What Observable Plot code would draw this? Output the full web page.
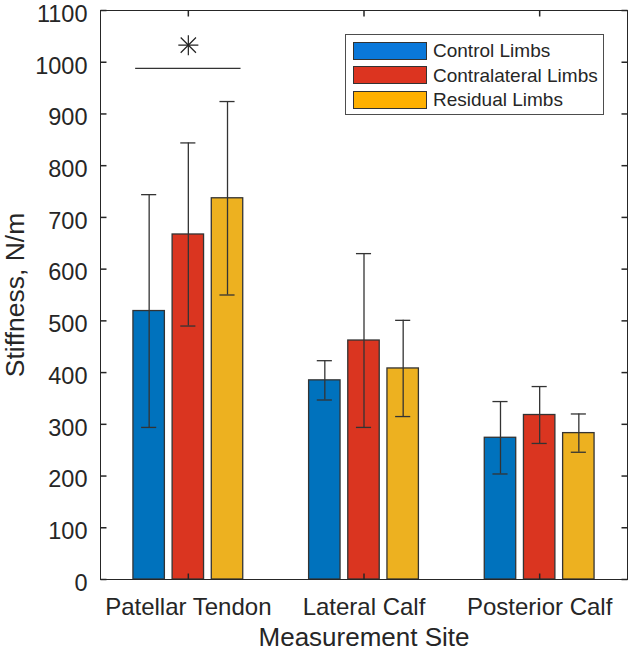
<!DOCTYPE html>
<html>
<head>
<meta charset="utf-8">
<script src="https://cdn.jsdelivr.net/npm/d3@7"></script>
<script src="https://cdn.jsdelivr.net/npm/@observablehq/plot@0.6"></script>
<style>
  body { margin: 0; background: #fff; font-family: "Liberation Sans", Arial, sans-serif; }
  #wrap { position: relative; width: 629px; height: 652px; }
  .legend { position: absolute; left: 345px; top: 34px; width: 257px; height: 79px;
            border: 1px solid #4d4d4d; background: #fff; box-sizing: content-box; }
  .row { position: absolute; left: 7px; height: 19px; display: flex; align-items: center; }
  .sw { width: 72px; height: 16px; border: 1.3px solid #333; }
  .lbl { margin-left: 6px; font-size: 19px; color: #262626; white-space: nowrap; line-height: 19px; }
</style>
</head>
<body>
<div id="wrap"></div>
<script>
// ---- data ----
const sites = ["Patellar Tendon", "Lateral Calf", "Posterior Calf"];
const series = ["Control Limbs", "Contralateral Limbs", "Residual Limbs"];
const controlMean = [519, 385, 274];
const controlSD = [225, 38, 70];
const contralateralMean = [667, 462, 318];
const contralateralSD = [177, 168, 55];
const residualMean = [737, 408, 283];
const residualSD = [187, 93, 37];
const yTicks = [0, 100, 200, 300, 400, 500, 600, 700, 800, 900, 1000, 1100];
const sigPair = [{x1: 0.7, x2: 1.3, y: 988}];
const sigMark = [{x: 1, y: 1033, label: "*"}];

// ---- styles ----
const barColors = ["#0072BD", "#DA3520", "#EDB120"];
const legendColors = ["#0A78DA", "#DC3420", "#FFB000"];
const ink = "#262626";
const groupOffset = 0.223, barW = 0.179, capHalf = 0.043;

const means = [controlMean, contralateralMean, residualMean];
const sds = [controlSD, contralateralSD, residualSD];
const rows = [];
sites.forEach((site, i) => {
  series.forEach((s, j) => {
    const m = means[j][i], sd = sds[j][i];
    rows.push({site, series: s, pos: i + 1 + (j - 1) * groupOffset, value: m, lo: m - sd, hi: m + sd});
  });
});

const tickSym = (dx, dy) => ({draw(ctx) { ctx.moveTo(0, 0); ctx.lineTo(dx, dy); }});
const tickLen = 6;

const chart = Plot.plot({
  width: 629,
  height: 652,
  marginLeft: 100,
  marginRight: 2,
  marginTop: 10,
  marginBottom: 73,
  style: {fontFamily: "'Liberation Sans', Arial, sans-serif", fontSize: "24px", color: ink, background: "#fff"},
  x: {domain: [0.5, 3.5]},
  y: {domain: [0, 1100]},
  color: {domain: series, range: barColors},
  marks: [
    Plot.rectY(rows, {x1: d => d.pos - barW / 2, x2: d => d.pos + barW / 2, y: "value", fill: "series", stroke: "#333", strokeWidth: 1.3}),
    Plot.ruleX(rows, {x: "pos", y1: "lo", y2: "hi", stroke: "#333", strokeWidth: 1.3}),
    Plot.ruleY(rows, {y: "lo", x1: d => d.pos - capHalf, x2: d => d.pos + capHalf, stroke: "#333", strokeWidth: 1.3}),
    Plot.ruleY(rows, {y: "hi", x1: d => d.pos - capHalf, x2: d => d.pos + capHalf, stroke: "#333", strokeWidth: 1.3}),
    Plot.ruleY(sigPair, {y: "y", x1: "x1", x2: "x2", stroke: "#333", strokeWidth: 1.2}),
    Plot.dot(sigMark, {x: "x", y: "y", symbol: "plus", r: 6.5, stroke: "#222", strokeWidth: 1.2, fill: "none"}),
    Plot.dot(sigMark, {x: "x", y: "y", symbol: "times", r: 7, stroke: "#222", strokeWidth: 1.2, fill: "none"}),
    Plot.frame({stroke: ink, strokeWidth: 1}),
    Plot.dot(yTicks, {y: d => d, frameAnchor: "left", symbol: tickSym(tickLen, 0), r: 3, stroke: ink, fill: "none"}),
    Plot.dot(yTicks, {y: d => d, frameAnchor: "right", symbol: tickSym(-tickLen, 0), r: 3, stroke: ink, fill: "none"}),
    Plot.dot([1, 2, 3], {x: d => d, frameAnchor: "bottom", symbol: tickSym(0, -tickLen), r: 3, stroke: ink, fill: "none"}),
    Plot.dot([1, 2, 3], {x: d => d, frameAnchor: "top", symbol: tickSym(0, tickLen), r: 3, stroke: ink, fill: "none"}),
    Plot.axisY(yTicks, {tickSize: 0, tickPadding: 13, dy: 3.8, fontSize: 23.5, label: null, color: ink, tickFormat: d => String(d)}),
    Plot.axisX([1, 2, 3], {tickSize: 0, tickPadding: 18, fontSize: 24, label: null, color: ink, tickFormat: d => sites[d - 1]}),
    Plot.text(["Stiffness, N/m"], {frameAnchor: "left", textAnchor: "middle", lineAnchor: "middle", dx: -85, rotate: -90, fontSize: 26.5, fill: ink}),
    Plot.text(["Measurement Site"], {frameAnchor: "bottom", textAnchor: "middle", dy: 48.5, lineAnchor: "top", fontSize: 26, fill: ink})
  ]
});

const wrap = document.getElementById("wrap");
wrap.appendChild(chart);

const legend = document.createElement("div");
legend.className = "legend";
series.forEach((s, j) => {
  const row = document.createElement("div");
  row.className = "row";
  row.style.top = (6 + j * 24.65) + "px";
  const sw = document.createElement("div");
  sw.className = "sw";
  sw.style.background = legendColors[j];
  const lbl = document.createElement("span");
  lbl.className = "lbl";
  lbl.textContent = s;
  row.appendChild(sw);
  row.appendChild(lbl);
  legend.appendChild(row);
});
wrap.appendChild(legend);
</script>
</body>
</html>
